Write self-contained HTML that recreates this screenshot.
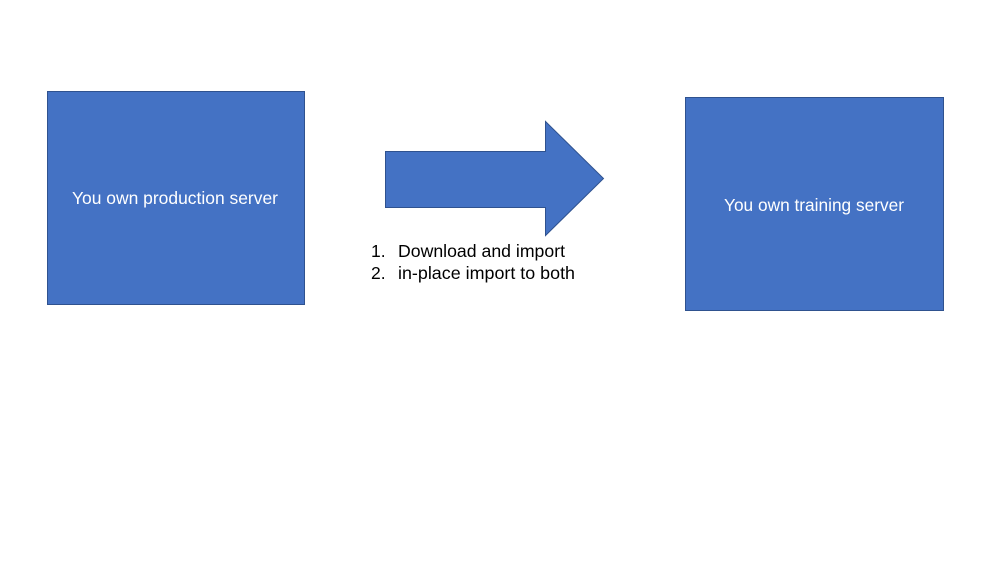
<!DOCTYPE html>
<html><head><meta charset="utf-8"><style>
body{margin:0;width:1000px;height:563px;background:#fff;overflow:hidden;font-family:"Liberation Sans",sans-serif;}
svg{position:absolute;left:0;top:0}
</style></head><body>
<svg width="1000" height="563" viewBox="0 0 1000 563">
<rect x="47.5" y="91.5" width="257" height="213" fill="#4472c4" stroke="#2f528f" stroke-width="1"/>
<rect x="685.5" y="97.5" width="258" height="213" fill="#4472c4" stroke="#2f528f" stroke-width="1"/>
<polygon points="385.5,151.5 545.5,151.5 545.5,121.5 603.5,178.5 545.5,235.5 545.5,207.5 385.5,207.5" fill="#4472c4" stroke="#2f528f" stroke-width="1"/>
<text x="72" y="204" fill="#fff" font-size="17.5" textLength="206" lengthAdjust="spacingAndGlyphs" font-family="Liberation Sans, sans-serif">You own production server</text>
<text x="724" y="211" fill="#fff" font-size="17.5" textLength="180" lengthAdjust="spacingAndGlyphs" font-family="Liberation Sans, sans-serif">You own training server</text>
<text x="371" y="257" fill="#000" font-size="17.5" font-family="Liberation Sans, sans-serif">1.</text>
<text x="398" y="257" fill="#000" font-size="17.5" textLength="167" lengthAdjust="spacingAndGlyphs" font-family="Liberation Sans, sans-serif">Download and import</text>
<text x="371" y="279" fill="#000" font-size="17.5" font-family="Liberation Sans, sans-serif">2.</text>
<text x="398" y="279" fill="#000" font-size="17.5" textLength="177" lengthAdjust="spacingAndGlyphs" font-family="Liberation Sans, sans-serif">in-place import to both</text>
</svg>
</body></html>
